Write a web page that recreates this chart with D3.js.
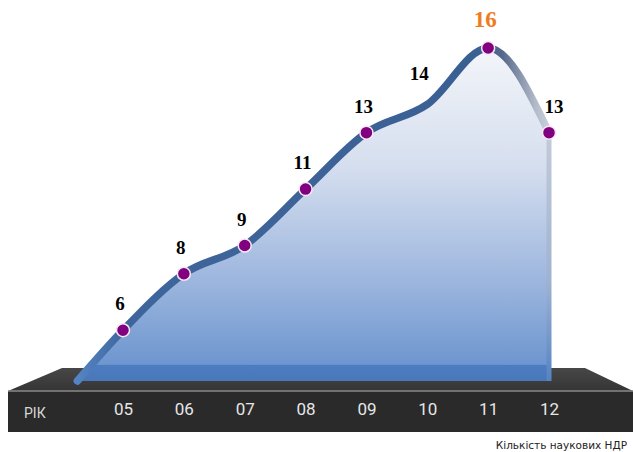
<!DOCTYPE html>
<html>
<head>
<meta charset="utf-8">
<script src="https://cdn.jsdelivr.net/npm/d3@7"></script>
<style>
  body { margin: 0; background: #fff; }
  svg { display: block; }
</style>
</head>
<body>
<svg id="chart"></svg>
<script>
// data
const years = ["05", "06", "07", "08", "09", "10", "11", "12"];
const counts = [6, 8, 9, 11, 13, 14, 16, 13];
const hasDot = [true, true, true, true, true, false, true, true];
const axisTitle = "РІК";
const caption = "Кількість наукових НДР";

const width = 633, height = 452;
const base = 381;          // where the area sits on the platform

const svg = d3.select("#chart")
    .attr("width", width)
    .attr("height", height);

const x = d3.scalePoint()
    .domain(years)
    .range([123, 549]);

const y = d3.scaleLinear()
    .domain([4.2, 16])
    .range([base, 48]);

const peak = d3.maxIndex(counts);

// gradients
const defs = svg.append("defs");

const areaGrad = defs.append("linearGradient")
    .attr("id", "areaGrad")
    .attr("gradientUnits", "userSpaceOnUse")
    .attr("x1", 0).attr("x2", 0)
    .attr("y1", y(16)).attr("y2", base);
[["0%", "#f3f5f9"], ["35%", "#d6dfef"], ["70%", "#9cb6de"], ["95%", "#6e96cf"],
 ["95.3%", "#4d7dc1"], ["100%", "#4877ba"]].forEach(s =>
    areaGrad.append("stop").attr("offset", s[0]).attr("stop-color", s[1]));

const x0 = x(years[0]) - x.step() * 0.75;
const x1 = x(years[years.length - 1]);
const peakOff = (x(years[peak]) - x0) / (x1 - x0);

const lineGrad = defs.append("linearGradient")
    .attr("id", "lineGrad")
    .attr("gradientUnits", "userSpaceOnUse")
    .attr("x1", x0).attr("x2", x1)
    .attr("y1", 0).attr("y2", 0);
[[0, "#5584c4"], [0.1, "#3f669c"], [peakOff - 0.02, "#3a5f93"],
 [peakOff + 0.03, "#56698a"], [peakOff + 0.1, "#b2bac9"], [1, "#c9d0dc"]].forEach(s =>
    lineGrad.append("stop").attr("offset", s[0]).attr("stop-color", s[1]));

const edgeGrad = defs.append("linearGradient")
    .attr("id", "edgeGrad")
    .attr("x1", 0).attr("x2", 0).attr("y1", 0).attr("y2", 1);
edgeGrad.append("stop").attr("offset", "0%").attr("stop-color", "#c4cbd8");
edgeGrad.append("stop").attr("offset", "60%").attr("stop-color", "#9fb2d2");
edgeGrad.append("stop").attr("offset", "100%").attr("stop-color", "#5583c4");

const topGrad = defs.append("linearGradient")
    .attr("id", "topGrad")
    .attr("x1", 0).attr("x2", 0).attr("y1", 0).attr("y2", 1);
topGrad.append("stop").attr("offset", "0%").attr("stop-color", "#474747");
topGrad.append("stop").attr("offset", "100%").attr("stop-color", "#353535");

// platform
const pLeft = 8, pRight = width, pTop = 368, pMid = 391, pBottom = 432;
svg.append("polygon")
    .attr("points", [[pLeft, pMid], [62, pTop], [585, pTop], [pRight, pMid]].join(" "))
    .attr("fill", "url(#topGrad)");
svg.append("rect")
    .attr("x", pLeft).attr("y", pMid)
    .attr("width", pRight - pLeft).attr("height", pBottom - pMid)
    .attr("fill", "#2a2a2a");
svg.append("line")
    .attr("x1", pLeft).attr("x2", pRight)
    .attr("y1", pMid).attr("y2", pMid)
    .attr("stroke", "#8a8a8a").attr("stroke-width", 1.5);

// curve points, starting on the platform
const pts = [[x0, base]].concat(counts.map((d, i) => [x(years[i]), y(d)]));

const area = d3.area()
    .x(d => d[0])
    .y0(base)
    .y1(d => d[1])
    .curve(d3.curveMonotoneX);

svg.append("path")
    .datum(pts)
    .attr("d", area)
    .attr("fill", "url(#areaGrad)");

// right edge of the area
svg.append("rect")
    .attr("x", x1 - 2.5)
    .attr("y", y(counts[counts.length - 1]))
    .attr("width", 5)
    .attr("height", base - y(counts[counts.length - 1]))
    .attr("fill", "url(#edgeGrad)");

const line = d3.line()
    .x(d => d[0])
    .y(d => d[1])
    .curve(d3.curveMonotoneX);

svg.append("path")
    .datum(pts)
    .attr("d", line)
    .attr("fill", "none")
    .attr("stroke", "url(#lineGrad)")
    .attr("stroke-width", 7.5)
    .attr("stroke-linecap", "round");

// dots
const data = counts.map((d, i) => ({ year: years[i], value: d, dot: hasDot[i], i }));

svg.selectAll(".dot")
    .data(data.filter(d => d.dot))
    .enter().append("circle")
    .attr("class", "dot")
    .attr("cx", d => x(d.year))
    .attr("cy", d => y(d.value))
    .attr("r", 6.5)
    .attr("fill", "#800080")
    .attr("stroke", "#f6e8f4")
    .attr("stroke-width", 1.5);

// value labels
svg.selectAll(".val")
    .data(data)
    .enter().append("text")
    .attr("class", "val")
    .attr("x", d => x(d.year) + (d.i === counts.length - 1 ? 5 : d.dot ? -3 : -8))
    .attr("y", d => y(d.value) - (d.i === peak ? 21 : d.dot ? 20 : 24))
    .attr("text-anchor", "middle")
    .style("font-family", "'Liberation Serif', 'Times New Roman', serif")
    .style("font-weight", "bold")
    .style("font-size", d => d.i === peak ? "23px" : "19px")
    .attr("fill", d => d.i === peak ? "#f07b1e" : "#000")
    .text(d => d.value);

// year axis on the platform
const axis = svg.append("g")
    .attr("class", "x-axis")
    .attr("transform", "translate(0,403)")
    .call(d3.axisBottom(x).tickSize(0).tickPadding(0));
axis.select(".domain").remove();
axis.selectAll("text")
    .style("font-family", "Roboto, 'Open Sans', sans-serif")
    .style("font-size", "17px")
    .attr("fill", "#e6e6e6");

svg.append("text")
    .attr("x", 24)
    .attr("y", 418)
    .style("font-family", "Roboto, 'Open Sans', sans-serif")
    .style("font-size", "14px")
    .attr("fill", "#d8d8d8")
    .text(axisTitle);

svg.append("text")
    .attr("x", 627)
    .attr("y", 449)
    .attr("text-anchor", "end")
    .style("font-family", "'DejaVu Sans', Tahoma, sans-serif")
    .style("font-size", "10.5px")
    .attr("fill", "#222")
    .text(caption);
</script>
</body>
</html>
